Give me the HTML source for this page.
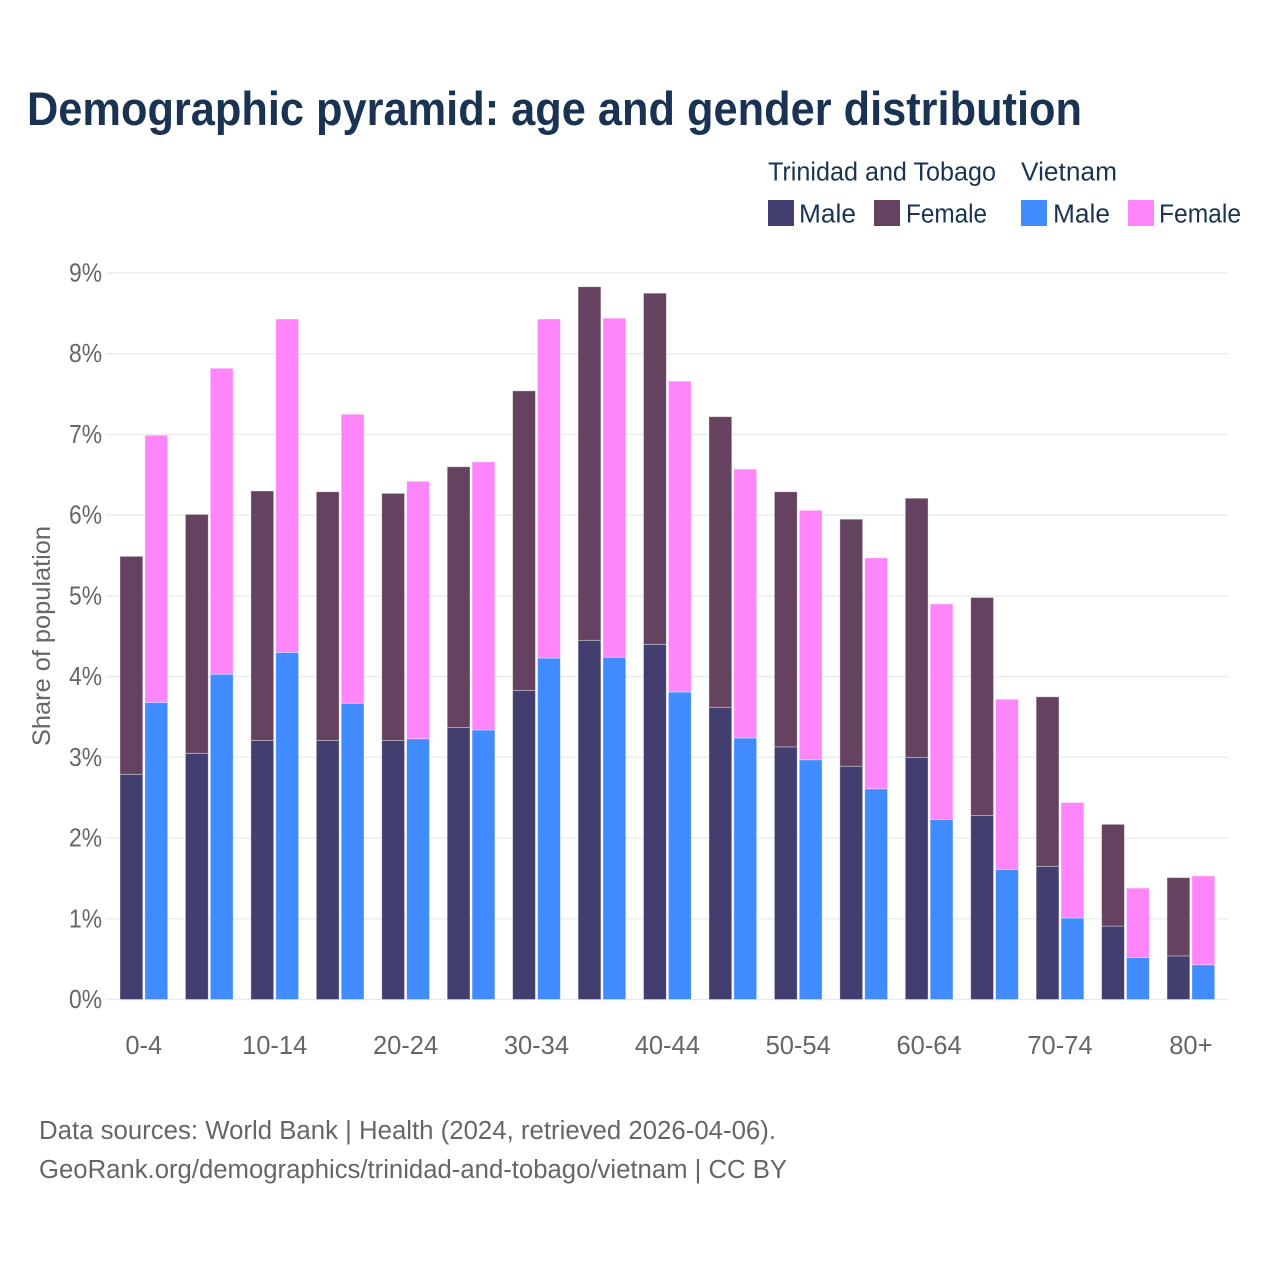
<!DOCTYPE html>
<html lang="en">
<head>
<meta charset="utf-8">
<title>Demographic pyramid: age and gender distribution</title>
<style>
html,body{margin:0;padding:0;background:#fff;}
svg{display:block;}
text{font-family:"Liberation Sans",sans-serif;}
</style>
</head>
<body>
<svg id="chart" xmlns="http://www.w3.org/2000/svg" width="1280" height="1280" viewBox="0 0 1280 1280">
  <rect x="0" y="0" width="1280" height="1280" fill="#ffffff"/>
  <text x="27" y="125" font-size="47.5" font-weight="700" fill="#1a3353" textLength="1055" lengthAdjust="spacingAndGlyphs">Demographic pyramid: age and gender distribution</text>

  <g font-size="25.5" fill="#1a3353">
    <text x="768" y="180.5" textLength="228" lengthAdjust="spacingAndGlyphs">Trinidad and Tobago</text>
    <text x="1021" y="180.5" textLength="96" lengthAdjust="spacingAndGlyphs">Vietnam</text>
    <rect x="768" y="200" width="26" height="26" fill="#423f70"/>
    <text x="799" y="222.5" textLength="57" lengthAdjust="spacingAndGlyphs">Male</text>
    <rect x="874" y="200" width="26" height="26" fill="#664261"/>
    <text x="906" y="222.5" textLength="81" lengthAdjust="spacingAndGlyphs">Female</text>
    <rect x="1021" y="200" width="26" height="26" fill="#408bff"/>
    <text x="1053" y="222.5" textLength="57" lengthAdjust="spacingAndGlyphs">Male</text>
    <rect x="1128" y="200" width="26" height="26" fill="#ff85fa"/>
    <text x="1159" y="222.5" textLength="82" lengthAdjust="spacingAndGlyphs">Female</text>
  </g>

  <g id="grid"></g>
  <g id="bars"></g>
  <g id="yticks"></g>
  <g id="xticks"></g>

  <text transform="translate(50,746) rotate(-90)" x="0" y="0" font-size="25" fill="#666666" textLength="220" lengthAdjust="spacingAndGlyphs">Share of population</text>

  <text x="39" y="1139" font-size="25.5" fill="#666666" textLength="737" lengthAdjust="spacingAndGlyphs">Data sources: World Bank | Health (2024, retrieved 2026-04-06).</text>
  <text x="39" y="1178" font-size="25.5" fill="#666666" textLength="748" lengthAdjust="spacingAndGlyphs">GeoRank.org/demographics/trinidad-and-tobago/vietnam | CC BY</text>
</svg>
<script>
const categories = ["0-4","5-9","10-14","15-19","20-24","25-29","30-34","35-39","40-44","45-49","50-54","55-59","60-64","65-69","70-74","75-79","80+"];
const trinidadMale = [2.79,3.05,3.21,3.21,3.21,3.37,3.83,4.45,4.40,3.62,3.13,2.89,3.00,2.28,1.65,0.91,0.54];
const trinidadFemale = [2.70,2.96,3.09,3.08,3.06,3.23,3.71,4.38,4.35,3.60,3.16,3.06,3.21,2.70,2.10,1.26,0.97];
const vietnamMale = [3.68,4.03,4.30,3.67,3.23,3.34,4.23,4.24,3.81,3.24,2.97,2.61,2.23,1.61,1.01,0.52,0.43];
const vietnamFemale = [3.31,3.79,4.13,3.58,3.19,3.32,4.20,4.20,3.85,3.33,3.09,2.86,2.67,2.11,1.43,0.86,1.10];
const yTicks = [0,1,2,3,4,5,6,7,8,9];
const xTickEvery = 2;

const NS = "http://www.w3.org/2000/svg";
function yScale(v){ return 999.5 - v * 80.72; }
function groupX(i){ return 120 + i * 65.44; }
const barW = 22.8, barGap = 24.9;

const gridG = document.getElementById("grid");
const yTickG = document.getElementById("yticks");
const xTickG = document.getElementById("xticks");
const barsG = document.getElementById("bars");

yTicks.forEach(function(t){
  const l = document.createElementNS(NS,"line");
  
  
  l.setAttribute("x1",106); l.setAttribute("x2",1228);
  l.setAttribute("y1",yScale(t)); l.setAttribute("y2",yScale(t));
  l.setAttribute("stroke","#ebebeb"); l.setAttribute("stroke-width",1.4);
  gridG.appendChild(l);
  const s = document.createElementNS(NS,"text");
  
  
  s.setAttribute("x",102); s.setAttribute("y",yScale(t)+8.5);
  s.setAttribute("text-anchor","end");
  s.setAttribute("font-size",25.5); s.setAttribute("fill","#666666");
  s.setAttribute("textLength",33); s.setAttribute("lengthAdjust","spacingAndGlyphs");
  s.textContent = t + "%";
  yTickG.appendChild(s);
});

function addBar(x,y0,y1,fill){
  const r = document.createElementNS(NS,"rect");
  
  
  r.setAttribute("x",x); r.setAttribute("width",barW);
  r.setAttribute("y",yScale(y1)); r.setAttribute("height",yScale(y0)-yScale(y1));
  r.setAttribute("fill",fill);
  r.setAttribute("stroke","#ffffff"); r.setAttribute("stroke-opacity",0.45); r.setAttribute("stroke-width",0.8);
  barsG.appendChild(r);
}

categories.forEach(function(c,i){
  const x = groupX(i);
  addBar(x,0,trinidadMale[i],"#423f70");
  addBar(x,trinidadMale[i],trinidadMale[i]+trinidadFemale[i],"#664261");
  addBar(x+barGap,0,vietnamMale[i],"#408bff");
  addBar(x+barGap,vietnamMale[i],vietnamMale[i]+vietnamFemale[i],"#ff85fa");
  if(i % xTickEvery === 0){
    const s = document.createElementNS(NS,"text");
    
    
    s.setAttribute("x",x+23.8); s.setAttribute("y",1054);
    s.setAttribute("text-anchor","middle");
    s.setAttribute("font-size",25.5); s.setAttribute("fill","#666666");
    s.textContent = c;
    xTickG.appendChild(s);
  }
});
</script>
</body>
</html>
